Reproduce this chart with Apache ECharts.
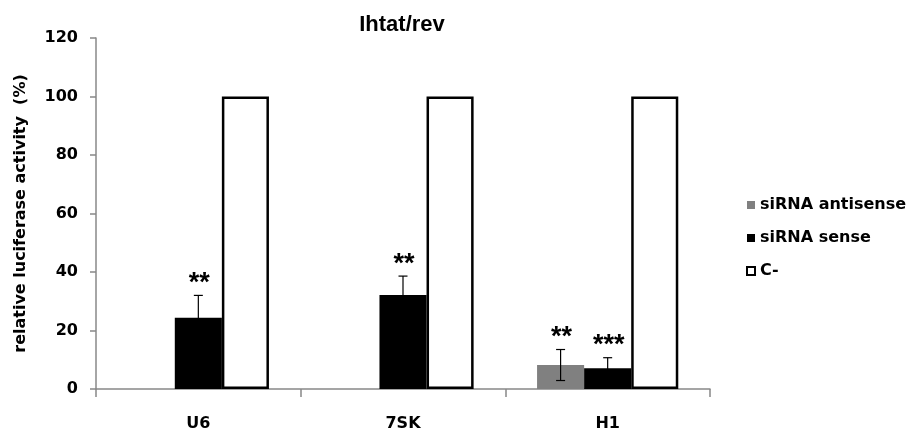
<!DOCTYPE html>
<html>
<head>
<meta charset="utf-8">
<script src="https://cdn.jsdelivr.net/npm/echarts@6/dist/echarts.min.js"></script>
<style>html,body{margin:0;padding:0;background:#fff;}#c{width:913px;height:435px;}</style>
</head>
<body>
<div id="c"></div>
<script>
const categories = ['U6', '7SK', 'H1'];
const antisense = [null, null, 8.2];
const sense = [24.4, 32.1, 7.1];
const control = [100, 100, 100];
const antisenseErr = [null, null, 5.3];
const senseErr = [7.6, 6.5, 3.6];
const antisenseStars = ['', '', '**'];
const senseStars = ['**', '**', '***'];
const yTicks = [0, 20, 40, 60, 80, 100, 120];

const FONT = '"DejaVu Sans", sans-serif';
const TFONT = '"Liberation Sans", Arial, sans-serif';
const BAR_FRAC = 0.23;

function errData(vals, errs, stars) {
  const out = [];
  vals.forEach((v, i) => {
    if (v != null && errs[i] != null) out.push([i, v, errs[i], stars[i]]);
  });
  return out;
}

function errSeries(data, offsetIdx) {
  return {
    type: 'custom',
    data: data,
    z: 10,
    renderItem: function (params, api) {
      const ci = api.value(0), v = api.value(1), e = api.value(2);
      const star = data[params.dataIndex][3];
      const band = api.size([1, 0])[0];
      const cx = api.coord([ci, v])[0] + offsetIdx * band * BAR_FRAC;
      const top = api.coord([ci, v + e])[1];
      const bot = api.coord([ci, Math.max(v - e, 0)])[1];
      const cap = 4.5;
      return {
        type: 'group',
        children: [
          { type: 'line', shape: { x1: cx, y1: top, x2: cx, y2: bot }, style: { stroke: '#000', lineWidth: 1.2 } },
          { type: 'line', shape: { x1: cx - cap, y1: top, x2: cx + cap, y2: top }, style: { stroke: '#000', lineWidth: 1.2 } },
          { type: 'line', shape: { x1: cx - cap, y1: bot, x2: cx + cap, y2: bot }, style: { stroke: '#000', lineWidth: 1.2 } },
          { type: 'text', x: cx + 1, y: top - 12, style: { text: star, fill: '#000', font: 'bold 27px ' + TFONT, align: 'center', verticalAlign: 'middle' } }
        ]
      };
    }
  };
}

const chart = echarts.init(document.getElementById('c'), null, { renderer: 'canvas' });
chart.setOption({
  animation: false,
  backgroundColor: '#fff',
  title: {
    text: 'Ihtat/rev',
    left: 397, top: 9, textAlign: 'center',
    textStyle: { fontFamily: TFONT, fontWeight: 'bold', fontSize: 22, color: '#000' }
  },
  legend: {
    orient: 'vertical', left: 746, top: 197, padding: 0,
    itemWidth: 8, itemHeight: 8, icon: 'rect', itemGap: 17,
    textStyle: { fontFamily: FONT, fontWeight: 'bold', fontSize: 16, color: '#000' },
    data: [
      { name: 'siRNA antisense', itemStyle: { color: '#808080', borderWidth: 0 } },
      { name: 'siRNA sense', itemStyle: { color: '#000', borderWidth: 0 } },
      { name: 'C-', itemStyle: { color: '#fff', borderColor: '#000', borderWidth: 2 } }
    ]
  },
  grid: { left: 96, right: 203, top: 38, bottom: 46, containLabel: false },
  xAxis: {
    type: 'category', data: categories,
    axisLine: { lineStyle: { color: '#888', width: 1.5 } },
    axisTick: { show: true, length: 8, lineStyle: { color: '#888', width: 1.5 } },
    axisLabel: { margin: 27, fontFamily: FONT, fontWeight: 'bold', fontSize: 16, color: '#000' }
  },
  yAxis: {
    type: 'value', min: yTicks[0], max: yTicks[yTicks.length - 1], interval: 20,
    name: 'relative luciferase activity  (%)', nameLocation: 'middle', nameGap: 67, nameRotate: 90,
    nameTextStyle: { fontFamily: FONT, fontWeight: 'bold', fontSize: 16, color: '#000' },
    axisLine: { show: true, lineStyle: { color: '#888', width: 1.5 } },
    axisTick: { show: true, length: 6, lineStyle: { color: '#888', width: 1.5 } },
    splitLine: { show: false },
    axisLabel: { margin: 18, fontFamily: FONT, fontWeight: 'bold', fontSize: 16, color: '#000' }
  },
  series: [
    { name: 'siRNA antisense', type: 'bar', data: antisense, barWidth: (BAR_FRAC * 100) + '%', barGap: '0%',
      itemStyle: { color: '#808080' } },
    { name: 'siRNA sense', type: 'bar', data: sense, barWidth: (BAR_FRAC * 100) + '%', barGap: '0%',
      itemStyle: { color: '#000' } },
    { name: 'C-', type: 'bar', data: control, barWidth: (BAR_FRAC * 100) + '%', barGap: '0%',
      itemStyle: { color: '#fff', borderColor: '#000', borderWidth: 2.5 } },
    errSeries(errData(antisense, antisenseErr, antisenseStars), -1),
    errSeries(errData(sense, senseErr, senseStars), 0)
  ]
});
</script>
</body>
</html>
